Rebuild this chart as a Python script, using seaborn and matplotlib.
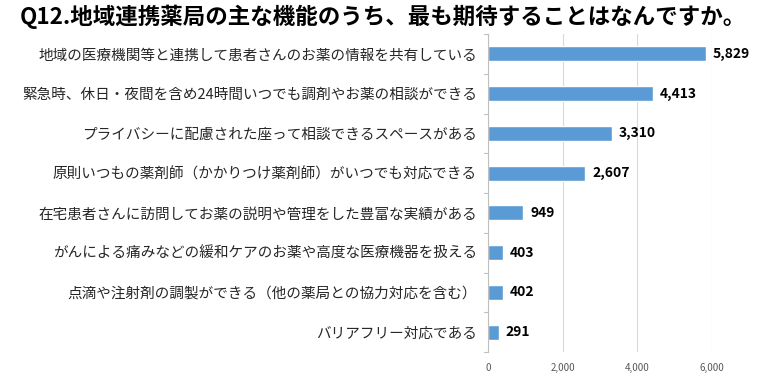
import matplotlib
matplotlib.use("Agg")
import matplotlib.pyplot as plt
import seaborn as sns
import pandas as pd

categories = [
    "地域の医療機関等と連携して患者さんのお薬の情報を共有している",
    "緊急時、休日・夜間を含め24時間いつでも調剤やお薬の相談ができる",
    "プライバシーに配慮された座って相談できるスペースがある",
    "原則いつもの薬剤師（かかりつけ薬剤師）がいつでも対応できる",
    "在宅患者さんに訪問してお薬の説明や管理をした豊富な実績がある",
    "がんによる痛みなどの緩和ケアのお薬や高度な医療機器を扱える",
    "点滴や注射剤の調製ができる（他の薬局との協力対応を含む）",
    "バリアフリー対応である",
]
values = [5829, 4413, 3310, 2607, 949, 403, 402, 291]
x_ticks = [0, 2000, 4000, 6000]
title = "Q12.地域連携薬局の主な機能のうち、最も期待することはなんですか。"

sns.set_theme(style="white")
plt.rcParams["font.family"] = ["Noto Sans CJK JP", "DejaVu Sans"]

df = pd.DataFrame({"cat": categories, "val": values})

fig = plt.figure(figsize=(7.59, 3.76), dpi=100)
ax = fig.add_axes([488 / 759, 1 - 352 / 376, (712 - 488) / 759, (352 - 34) / 376])

sns.barplot(data=df, y="cat", x="val", color="#5B9BD5", width=0.38,
            saturation=1, ax=ax, orient="h")

n = len(categories)
ax.set_ylim(n - 0.5, -0.5)
ax.set_xlim(0, 6000)
ax.set_xticks(x_ticks)
ax.set_xticklabels([f"{t:,}" for t in x_ticks], fontsize=7, color="#595959")
ax.grid(axis="x", color="#D9D9D9", linewidth=0.8)
ax.set_axisbelow(True)
ax.set_xlabel("")
ax.set_ylabel("")
ax.tick_params(axis="y", labelsize=10.5, length=0, pad=8)
ax.tick_params(axis="x", length=0, pad=8)
for lab in ax.get_yticklabels():
    lab.set_color("#262626")
for s in ["top", "right", "bottom"]:
    ax.spines[s].set_visible(False)
ax.spines["left"].set_color("#BFBFBF")
ax.spines["left"].set_linewidth(0.8)

# category boundary ticks on the left spine
for b in range(n + 1):
    yb = b - 0.5
    ax.plot([-0.02, 0], [yb, yb], transform=ax.get_yaxis_transform(),
            color="#BFBFBF", linewidth=0.8, clip_on=False)

for i, v in enumerate(values):
    ax.annotate(f"{v:,}", xy=(v, i), xytext=(5, 0), textcoords="offset points",
                va="center", ha="left", fontsize=10, fontweight="bold",
                color="#000000")

fig.text(20 / 759, 1 - 17 / 376, title, fontsize=16.2, fontweight="bold",
         va="center", ha="left", color="#000000")

fig.savefig("out.png", dpi=100)
